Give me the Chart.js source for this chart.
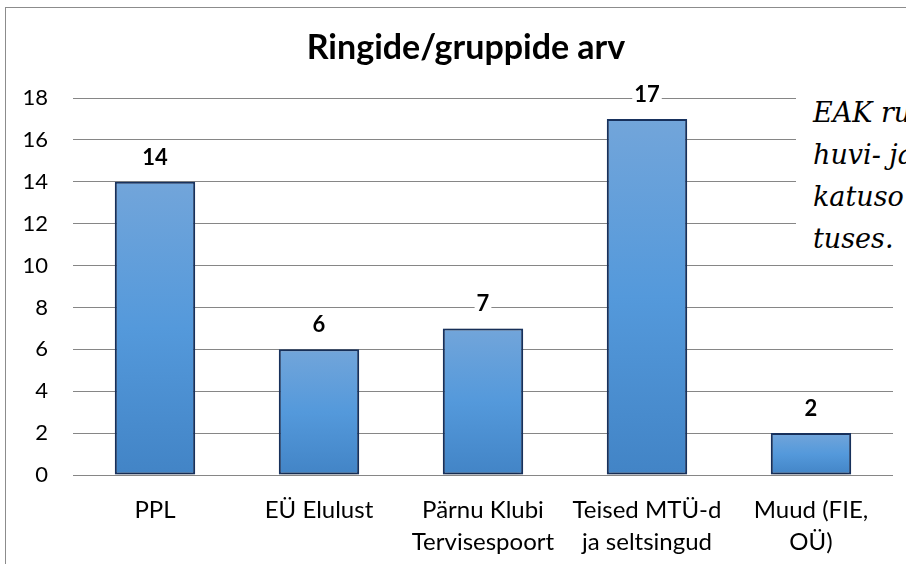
<!DOCTYPE html>
<html><head><meta charset="utf-8">
<script src="https://cdn.jsdelivr.net/npm/chart.js@4/dist/chart.umd.min.js"></script>
<style>
html,body{margin:0;padding:0;background:#fff;}
#wrap{position:relative;width:906px;height:564px;overflow:hidden;background:#fff;}
#frame{position:absolute;left:5px;top:7px;width:920px;height:580px;border:1px solid #8c8c8c;box-sizing:border-box;}
canvas{position:absolute;left:0;top:0;}
#note{position:absolute;left:796px;top:88px;width:140px;height:170px;box-sizing:border-box;padding:4px 0 0 17px;background:#fff;font-family:"DejaVu Serif",serif;font-style:italic;font-size:27px;line-height:42px;white-space:nowrap;color:#000;}
</style>
</head><body>
<div id="wrap">
<div id="frame"></div>
<canvas id="c" width="906" height="564"></canvas>
<div id="note">EAK ruu<br>huvi- ja<br>katuso<br>tuses.</div>
</div>
<script>
const categories = [["PPL"], ["EÜ Elulust"], ["Pärnu Klubi", "Tervisespoort"], ["Teised MTÜ-d", "ja seltsingud"], ["Muud (FIE,", "OÜ)"]];
const values = [14, 6, 7, 17, 2];
const yTicks = [0, 2, 4, 6, 8, 10, 12, 14, 16, 18];
const titleText = "Ringide/gruppide arv";

const FONT = "Lato";

const titlePlugin = {
  id: 'ownTitle',
  afterDraw(chart) {
    const ctx = chart.ctx;
    ctx.save();
    ctx.font = "bold 34px " + FONT;
    ctx.textAlign = 'center';
    ctx.textBaseline = 'middle';
    ctx.fillStyle = '#000';
    ctx.fillText(titleText, 466, 48);
    ctx.restore();
  }
};

const labelPlugin = {
  id: 'valueLabels',
  afterDatasetsDraw(chart) {
    const ctx = chart.ctx;
    const meta = chart.getDatasetMeta(0);
    ctx.save();
    ctx.font = "bold 22px " + FONT;
    ctx.textAlign = 'center';
    ctx.textBaseline = 'middle';
    meta.data.forEach((bar, i) => {
      const txt = String(values[i]);
      const w = ctx.measureText(txt).width;
      const y = bar.y - 24;
      ctx.fillStyle = '#fff';
      ctx.fillRect(bar.x - w / 2 - 2, y - 11, w + 4, 22);
      ctx.fillStyle = '#000';
      ctx.fillText(txt, bar.x, y);
    });
    ctx.restore();
  }
};

const shadowPlugin = {
  id: 'barShadow',
  beforeDatasetDraw(chart) {
    const ctx = chart.ctx;
    ctx.save();
    ctx.shadowColor = 'rgba(0,0,0,0.35)';
    ctx.shadowBlur = 5;
    ctx.shadowOffsetX = 0;
    ctx.shadowOffsetY = 1;
  },
  afterDatasetDraw(chart) {
    chart.ctx.restore();
  }
};

new Chart(document.getElementById('c'), {
  type: 'bar',
  data: {
    labels: categories,
    datasets: [{
      data: values,
      backgroundColor(ctx) {
        const chart = ctx.chart;
        const ys = chart.scales && chart.scales.y;
        if (!ys || ctx.dataIndex === undefined) return '#5b9bd5';
        const top = ys.getPixelForValue(values[ctx.dataIndex]);
        const bot = ys.getPixelForValue(0);
        if (!isFinite(top) || !isFinite(bot) || top === bot) return '#5b9bd5';
        const g = chart.ctx.createLinearGradient(0, top, 0, bot);
        g.addColorStop(0, 'rgb(114,165,218)');
        g.addColorStop(0.5, 'rgb(84,153,219)');
        g.addColorStop(1, 'rgb(66,132,198)');
        return g;
      },
      borderColor: 'rgb(25,52,98)',
      borderWidth: 2,
      borderSkipped: false,
      categoryPercentage: 0.49,
      barPercentage: 1
    }]
  },
  options: {
    responsive: false,
    devicePixelRatio: 1,
    animation: false,
    layout: { padding: { left: 10, right: 13, top: 98, bottom: 0 } },
    plugins: {
      legend: { display: false },
      tooltip: { enabled: false },
      title: { display: false }
    },
    scales: {
      y: {
        min: 0, max: 18,
        afterBuildTicks(scale) { scale.ticks = yTicks.map(v => ({ value: v })); },
        ticks: { color: '#000', font: { family: FONT, size: 22 }, padding: 25 },
        grid: { color: '#868686', lineWidth: 1, drawTicks: false },
        border: { display: false },
        afterFit(scale) { scale.width = 63; }
      },
      x: {
        ticks: { color: '#000', font: { family: FONT, size: 24, lineHeight: 1.3 }, padding: 12, maxRotation: 0, autoSkip: false },
        grid: { display: false },
        border: { display: false },
        afterFit(scale) { scale.height = 89; }
      }
    }
  },
  plugins: [shadowPlugin, labelPlugin, titlePlugin]
});
</script>
</body></html>
